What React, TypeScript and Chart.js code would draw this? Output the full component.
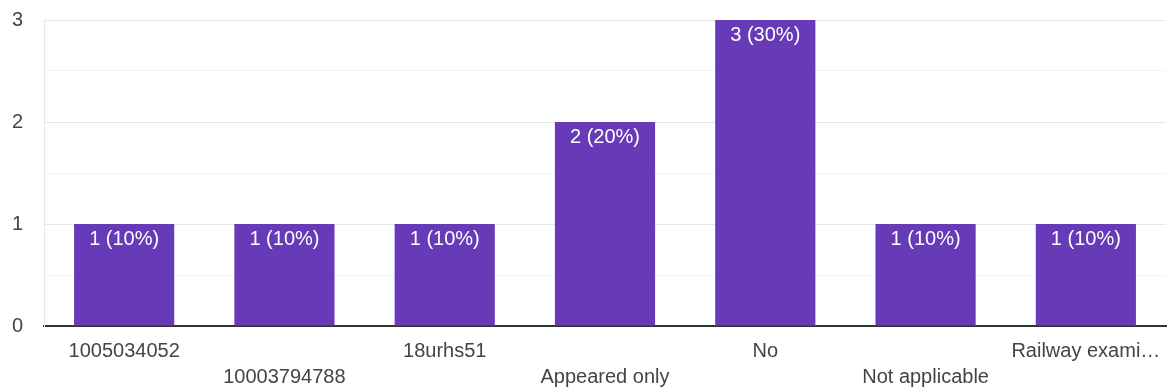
import React, { useEffect, useRef } from "react";
import { Chart, registerables } from "chart.js";

Chart.register(...registerables);

const categories = [
  "1005034052",
  "10003794788",
  "18urhs51",
  "Appeared only",
  "No",
  "Not applicable",
  "Railway exami…",
];
const counts = [1, 1, 1, 2, 3, 1, 1];
const yTicks = [0, 1, 2, 3];

const FONT = "'Liberation Sans', Arial, sans-serif";
const BAR = "#673ab7";

const barLabels = {
  id: "barLabels",
  afterDatasetsDraw(chart: any) {
    const { ctx } = chart;
    const meta = chart.getDatasetMeta(0);
    const total = counts.reduce((a, b) => a + b, 0);
    ctx.save();
    ctx.font = `20px ${FONT}`;
    ctx.fillStyle = "#ffffff";
    ctx.textAlign = "center";
    ctx.textBaseline = "middle";
    meta.data.forEach((bar: any, i: number) => {
      const v = counts[i];
      const pct = Math.round((v / total) * 100);
      ctx.fillText(`${v} (${pct}%)`, bar.x, bar.y + 15);
    });
    ctx.restore();
  },
};

export default function App() {
  const ref = useRef<HTMLCanvasElement | null>(null);
  useEffect(() => {
    if (!ref.current) return;
    const chart = new Chart(ref.current, {
      type: "bar",
      data: {
        labels: categories,
        datasets: [
          {
            data: counts,
            backgroundColor: BAR,
            borderWidth: 0,
            barPercentage: 0.625,
            categoryPercentage: 1,
          },
        ],
      },
      options: {
        animation: false,
        responsive: true,
        maintainAspectRatio: false,
        layout: { padding: { top: 20, right: 4, left: 12, bottom: 0 } },
        plugins: { legend: { display: false }, tooltip: { enabled: false } },
        scales: {
          x: {
            grid: { display: false, drawTicks: true, tickLength: 12 },
            border: { display: true, color: "#333333", width: 2 },
            afterFit: (s: any) => {
              s.height = 65;
            },
            ticks: {
              autoSkip: false,
              maxRotation: 0,
              minRotation: 0,
              padding: 0,
              color: "#444444",
              font: { family: FONT, size: 20, lineHeight: 1.3 },
              callback: (_v: any, i: number) =>
                i % 2 === 1 ? ["", categories[i]] : categories[i],
            },
          },
          y: {
            min: yTicks[0],
            max: yTicks[yTicks.length - 1],
            afterFit: (s: any) => {
              s.width = 32;
            },
            grid: {
              drawTicks: false,
              color: (c: any) =>
                c.tick && Number.isInteger(c.tick.value) ? "#e6e6e6" : "#f3f3f3",
              lineWidth: 1,
            },
            border: { display: true, color: "#e6e6e6", width: 1 },
            ticks: {
              stepSize: 0.5,
              padding: 0,
              crossAlign: "far",
              color: "#444444",
              font: { family: FONT, size: 20 },
              callback: (v: any) =>
                yTicks.includes(Number(v)) ? String(v) : "",
            },
          },
        },
      },
      plugins: [barLabels],
    });
    return () => chart.destroy();
  }, []);
  return (
    <div
      style={{
        position: "fixed",
        left: 0,
        top: 0,
        width: 1170,
        height: 391,
        background: "#ffffff",
      }}
    >
      <canvas ref={ref} />
    </div>
  );
}
